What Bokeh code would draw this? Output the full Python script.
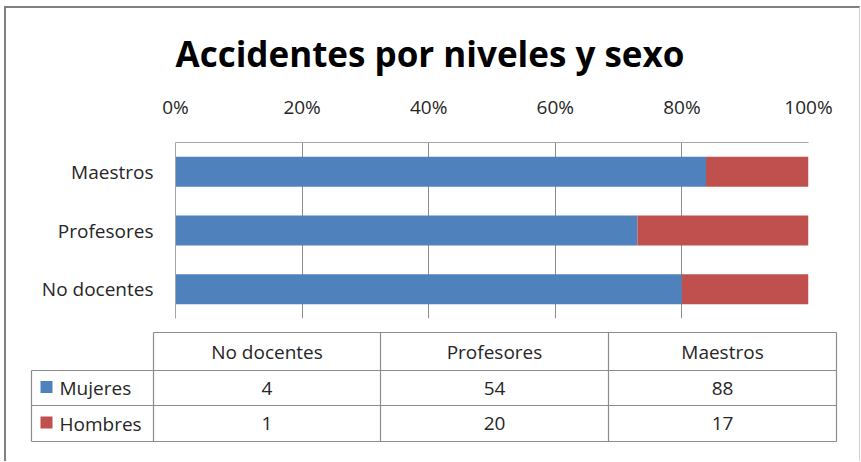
from bokeh.plotting import figure
from bokeh.layouts import column, row
from bokeh.models import ColumnDataSource, FactorRange, Range1d, FixedTicker, NumeralTickFormatter
from bokeh.core.properties import value
from bokeh.embed import file_html
from bokeh.resources import INLINE

# ---- data ----
categories = ["No docentes", "Profesores", "Maestros"]
series = ["Mujeres", "Hombres"]
mujeres = [4, 54, 88]
hombres = [1, 20, 17]
tick_values = [0, 0.2, 0.4, 0.6, 0.8, 1.0]
colors = ["#4F81BD", "#C0504D"]
title_text = "Accidentes por niveles y sexo"

FONT = "Open Sans"
TXT = "#262626"
FS = "19px"

totals = [m + h for m, h in zip(mujeres, hombres)]
src = ColumnDataSource(dict(
    cat=categories,
    Mujeres=[m / t for m, t in zip(mujeres, totals)],
    Hombres=[h / t for h, t in zip(hombres, totals)],
))

W = 853
TOP_H = 317
p = figure(width=W, height=TOP_H, y_range=FactorRange(*categories), x_range=Range1d(0, 1),
           x_axis_location="above", output_backend="svg", toolbar_location=None,
           min_border_left=169, min_border_right=51, min_border_bottom=7, min_border_top=134)
p.hbar_stack(series, y="cat", height=0.51, color=colors, line_color=None, source=src)

p.title.text = title_text
p.title.align = "left"
p.title.offset = 0
p.title.text_font = FONT
p.title.text_font_size = "35px"
p.title.text_font_style = "bold"
p.title.text_color = "black"
p.title.text_line_height = 0.9
p.title.standoff = 27

xa = p.xaxis[0]
xa.ticker = FixedTicker(ticks=tick_values)
xa.formatter = NumeralTickFormatter(format="0%")
xa.major_tick_out = 0
xa.major_tick_in = 0
xa.minor_tick_line_color = None
xa.axis_line_color = "#a6a6a6"
xa.major_label_standoff = 23
xa.major_label_text_font = FONT
xa.major_label_text_font_size = FS
xa.major_label_text_color = TXT

ya = p.yaxis[0]
ya.major_tick_out = 0
ya.major_tick_in = 0
ya.axis_line_color = "#a6a6a6"
ya.major_label_standoff = 22
ya.major_label_text_font = FONT
ya.major_label_text_font_size = FS
ya.major_label_text_color = TXT

p.xgrid.ticker = FixedTicker(ticks=tick_values[1:])
p.xgrid.grid_line_color = "#8c8c8c"
p.ygrid.grid_line_color = None
p.outline_line_color = None

# ---- data table ----
TH = 136
t = figure(width=W, height=TH, x_range=Range1d(0, W), y_range=Range1d(TH, 0),
           output_backend="svg", toolbar_location=None, min_border=0)
t.axis.visible = False
t.grid.grid_line_color = None
t.outline_line_color = None

left = 25
cols = [147, 374, 602, 830]
rows = [7, 45, 80, 116]
x0, y0, x1, y1 = [], [], [], []
x0.append(cols[0]); x1.append(cols[-1]); y0.append(rows[0]); y1.append(rows[0])
for r in rows[1:]:
    x0.append(left); x1.append(cols[-1]); y0.append(r); y1.append(r)
x0.append(left); x1.append(left); y0.append(rows[1]); y1.append(rows[-1])
for c in cols:
    x0.append(c); x1.append(c); y0.append(rows[0]); y1.append(rows[-1])
t.segment(x0=x0, y0=y0, x1=x1, y1=y1, line_color="#8c8c8c", line_width=1.2)

centers = [(cols[i] + cols[i + 1]) / 2 for i in range(3)]
rmid = [(rows[i] + rows[i + 1]) / 2 for i in range(3)]
t.text(x=centers, y=[rmid[0]] * 3, text=categories, text_align="center", text_baseline="middle",
       text_font=value(FONT), text_font_size=FS, text_color=TXT)
for k, vals in enumerate([mujeres, hombres]):
    t.text(x=centers, y=[rmid[k + 1]] * 3, text=[str(v) for v in vals], text_align="center",
           text_baseline="middle", text_font=value(FONT), text_font_size=FS, text_color=TXT)
    t.rect(x=[40], y=[rmid[k + 1] - 1], width=12, height=12, fill_color=colors[k], line_color=None)
    t.text(x=[53], y=[rmid[k + 1]], text=[series[k]], text_align="left", text_baseline="middle",
           text_font=value(FONT), text_font_size=FS, text_color=TXT)

layout = column(p, row(t), spacing=0, margin=(6, 0, 0, 4),
                styles={"border-top": "2px solid #808080", "border-left": "2px solid #808080",
                        "border-right": "1px solid #d0d0d0"})

open("out.html", "w").write(file_html(layout, INLINE))
